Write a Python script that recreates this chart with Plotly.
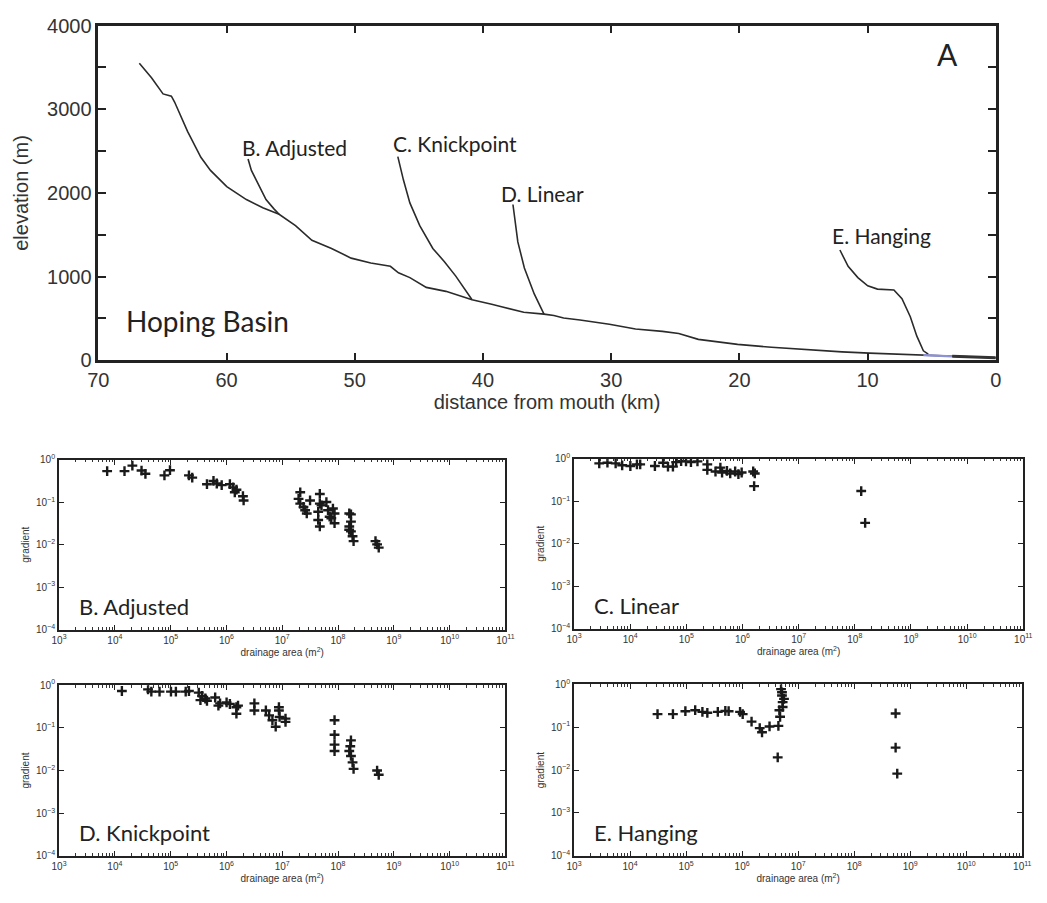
import plotly.graph_objects as go

# ---------------- Long profile (panel A) ----------------
trunk_km = [66.8, 65.85, 64.95, 64.3, 64.05, 63.04, 62.0, 61.25, 59.98, 58.45, 57.17, 55.9,
            54.62, 53.34, 51.81, 50.28, 48.75, 47.22, 46.59, 45.7, 44.42, 42.89, 40.85, 40.08,
            39.32, 38.55, 37.53, 36.82, 35.24, 34.47, 33.71, 32.43, 30.14, 28.1, 26.0, 24.73,
            23.2, 20.14, 17.5, 15.35, 14.1, 12.0, 9.87, 7.5, 5.65, 4.5, 3.4, 2.0, 0.0]
trunk_elev = [3550, 3378, 3184, 3157, 3087, 2737, 2426, 2270, 2076, 1921, 1823, 1745,
              1609, 1434, 1337, 1221, 1163, 1123, 1046, 988, 871, 824, 723, 700,
              670, 640, 606, 575, 552, 535, 505, 482, 431, 373, 345, 320,
              250, 190, 155, 132, 122, 100, 85, 72, 62, 55, 47, 40, 30]

adjusted_km = [58.32, 58.06, 57.68, 56.92, 56.3, 55.9]
adjusted_elev = [2406, 2270, 2154, 1921, 1810, 1745]

knick_km = [46.64, 46.2, 45.7, 44.93, 43.91, 43.02, 42.12, 41.36, 40.85]
knick_elev = [2434, 2154, 1881, 1609, 1337, 1181, 1006, 832, 723]

linear_km = [37.66, 37.28, 36.77, 36.0, 35.24]
linear_elev = [1862, 1415, 1104, 793, 552]

hanging_km = [12.16, 11.52, 10.76, 9.99, 9.23, 7.95, 7.32, 6.67, 6.16, 5.65, 5.27]
hanging_elev = [1318, 1123, 988, 890, 851, 840, 735, 521, 288, 113, 73]

# ---------------- Slope-area data (log10 values) ----------------
adj_logA = [3.862, 4.173, 4.314, 4.478, 4.548, 4.889, 4.988, 5.328, 5.387, 5.651, 5.768, 5.827,
            5.915, 6.062, 6.12, 6.15, 6.18, 6.296, 6.308,
            7.323, 7.293, 7.323, 7.381, 7.411, 7.499, 7.44, 7.674, 7.674, 7.645, 7.645, 7.674,
            7.704, 7.792, 7.821, 7.85, 7.909, 7.938, 7.938, 7.88,
            8.202, 8.232, 8.202, 8.232, 8.261, 8.279, 8.232, 8.2, 8.672, 8.701, 8.73]
adj_logS = [-0.268, -0.268, -0.138, -0.253, -0.33, -0.368, -0.245, -0.368, -0.421, -0.575, -0.498, -0.559,
            -0.598, -0.575, -0.651, -0.766, -0.705, -0.858, -0.958,
            -0.766, -0.92, -1.034, -1.111, -1.188, -0.958, -1.264, -0.805, -1.034, -1.226, -1.418, -1.571,
            -1.073, -0.996, -1.188, -1.341, -1.149, -1.264, -1.494, -1.379,
            -1.264, -1.456, -1.571, -1.686, -1.801, -1.916, -1.287, -1.65, -1.916, -1.992, -2.069]

lin_logA = [3.449, 3.595, 3.741, 3.857, 4.003, 4.12, 4.178, 4.44, 4.586, 4.673, 4.761, 4.819,
            4.907, 4.994, 5.082, 5.198, 5.373, 5.373, 5.519, 5.606, 5.636, 5.723, 5.781, 5.869,
            5.927, 5.985, 6.19, 6.219, 6.207, 8.114, 8.184]
lin_logS = [-0.107, -0.092, -0.107, -0.153, -0.169, -0.13, -0.13, -0.169, -0.092, -0.184, -0.184, -0.077,
            -0.054, -0.061, -0.077, -0.061, -0.13, -0.261, -0.299, -0.207, -0.322, -0.284, -0.345, -0.299,
            -0.36, -0.322, -0.299, -0.345, -0.644, -0.759, -1.51]

knk_logA = [4.126, 4.595, 4.654, 4.801, 5.006, 5.094, 5.27, 5.328, 5.504, 5.563, 5.622, 5.534,
            5.651, 5.798, 5.856, 5.886, 6.003, 6.062, 6.179, 6.179, 6.208, 6.501, 6.501, 6.707,
            6.765, 6.824, 6.941, 6.953, 6.941, 6.883, 7.059, 7.059,
            7.938, 7.938, 7.938, 7.938, 8.232, 8.202, 8.232, 8.261, 8.279, 8.22, 8.701, 8.73]
knk_logS = [-0.137, -0.099, -0.152, -0.152, -0.152, -0.152, -0.152, -0.137, -0.175, -0.251, -0.312, -0.35,
            -0.365, -0.289, -0.479, -0.426, -0.403, -0.441, -0.517, -0.669, -0.479, -0.426, -0.593, -0.593,
            -0.707, -0.821, -0.593, -0.745, -0.517, -0.973, -0.783, -0.859,
            -0.821, -1.163, -1.392, -1.544, -1.293, -1.544, -1.658, -1.81, -1.962, -1.43, -2.0, -2.099]

hng_logA = [4.49, 4.765, 4.987, 5.162, 5.291, 5.379, 5.566, 5.7, 5.759, 5.963, 6.01, 6.168,
            6.314, 6.355, 6.489, 6.711, 6.723, 6.723, 6.694, 6.711, 6.747, 6.665, 6.677, 6.647,
            6.635, 8.739, 8.739, 8.768]
hng_logS = [-0.697, -0.697, -0.629, -0.606, -0.644, -0.667, -0.644, -0.621, -0.629, -0.644, -0.697, -0.871,
            -1.023, -1.121, -0.985, -0.265, -0.417, -0.53, -0.114, -0.189, -0.341, -0.606, -0.758, -0.97,
            -1.705, -0.682, -1.477, -2.083]

elev_ticks = [0, 500, 1000, 1500, 2000, 2500, 3000, 3500, 4000]
elev_ticktext = ["0", "", "1000", "", "2000", "", "3000", "", "4000"]
dist_ticks = [70, 60, 50, 40, 30, 20, 10, 0]

area_exponents = [3, 4, 5, 6, 7, 8, 9, 10, 11]
grad_exponents = [0, -1, -2, -3, -4]

W, H = 1047, 903
LINE = "#2b2b2b"
LABEL_FONT = "Lato"
AXIS_FONT = "Liberation Sans, Arial, sans-serif"


def px_x(p):
    return p / W


def px_y(p):
    return 1 - p / H


fig = go.Figure()

# main stem and tributaries
for xs, ys in [(trunk_km, trunk_elev), (adjusted_km, adjusted_elev), (knick_km, knick_elev),
               (linear_km, linear_elev), (hanging_km, hanging_elev)]:
    fig.add_trace(go.Scatter(x=xs, y=ys, mode="lines", line=dict(color=LINE, width=1.6),
                             xaxis="x", yaxis="y", showlegend=False, hoverinfo="skip"))

# lowest reach near the mouth
blue_pts = [(k, e) for k, e in zip(trunk_km, trunk_elev) if 3.4 <= k <= 5.7]
fig.add_trace(go.Scatter(x=[p[0] for p in blue_pts], y=[p[1] for p in blue_pts], mode="lines",
                         line=dict(color="#8d91d6", width=2.2), xaxis="x", yaxis="y",
                         showlegend=False, hoverinfo="skip"))
mouth_pts = [(k, e) for k, e in zip(trunk_km, trunk_elev) if k <= 3.4]
fig.add_trace(go.Scatter(x=[p[0] for p in mouth_pts], y=[p[1] for p in mouth_pts], mode="lines",
                         line=dict(color="#333333", width=3), xaxis="x", yaxis="y",
                         showlegend=False, hoverinfo="skip"))

# slope-area panels
panels = [
    ("2", adj_logA, adj_logS, (49, 504, 460, 634), "B. Adjusted"),
    ("3", lin_logA, lin_logS, (574, 1032, 459, 633), "C. Linear"),
    ("4", knk_logA, knk_logS, (49, 504, 691, 866), "D. Knickpoint"),
    ("5", hng_logA, hng_logS, (574, 1031, 690, 866), "E. Hanging"),
]

layout = dict(
    width=W, height=H, margin=dict(l=0, r=0, t=0, b=0),
    paper_bgcolor="white", plot_bgcolor="white", showlegend=False,
    font=dict(family=AXIS_FONT, color="#333333"),
)

layout["xaxis"] = dict(
    domain=[px_x(89), px_x(1004)], range=[70, 0], anchor="y",
    tickmode="array", tickvals=dist_ticks, ticks="inside", ticklen=8, tickwidth=1.5,
    tickcolor="#222", showline=True, linewidth=2.5, linecolor="#222", mirror="ticks",
    showgrid=False, zeroline=False, tickfont=dict(size=20, color="#333"),
    title=dict(text="distance from mouth (km)", font=dict(size=20, color="#333"), standoff=2),
)
layout["yaxis"] = dict(
    domain=[px_y(358), px_y(15)], range=[0, 4000], anchor="x",
    tickmode="array", tickvals=elev_ticks, ticktext=elev_ticktext, ticks="inside", ticklen=8,
    tickwidth=1.5, tickcolor="#222", showline=True, linewidth=2.5, linecolor="#222",
    mirror="ticks", showgrid=False, zeroline=False, tickfont=dict(size=20, color="#333"),
    title=dict(text="elevation (m)", font=dict(size=20, color="#333"), standoff=14),
)

area_vals = [10.0 ** e for e in area_exponents]
area_text = ["10<sup>%d</sup>" % e for e in area_exponents]
grad_vals = [10.0 ** e for e in grad_exponents]
grad_text = ["10<sup>%s</sup>" % (str(e).replace("-", "\u2212")) for e in grad_exponents]
area_minor = [m * 10.0 ** e for e in area_exponents[:-1] for m in range(2, 10)]

annotations = []
for idx, lx, ly, (x0, x1, y0, y1), label in panels:
    xa, ya = "xaxis" + idx, "yaxis" + idx
    fig.add_trace(go.Scatter(
        x=[10 ** v for v in lx], y=[10 ** v for v in ly], mode="markers",
        marker=dict(symbol="cross-thin", size=7, line=dict(color="#1a1a1a", width=2.4)),
        xaxis="x" + idx, yaxis="y" + idx, showlegend=False, hoverinfo="skip"))
    layout[xa] = dict(
        domain=[px_x(x0), px_x(x1)], type="log", range=[3, 11], anchor="y" + idx,
        tickmode="array", tickvals=area_vals, ticktext=area_text, ticks="inside", ticklen=5,
        tickwidth=1, tickcolor="#222", showline=True, linewidth=2, linecolor="#222",
        mirror="ticks", showgrid=False, zeroline=False,
        minor=dict(tickmode="array", tickvals=area_minor, ticks="inside", ticklen=2.5,
                   tickwidth=1, tickcolor="#333", showgrid=False),
        tickfont=dict(size=10, color="#333"),
        title=dict(text="drainage area (m<sup>2</sup>)", font=dict(size=10, color="#333"), standoff=4),
    )
    layout[ya] = dict(
        domain=[px_y(y1), px_y(y0)], type="log", range=[-4, 0], anchor="x" + idx,
        tickmode="array", tickvals=grad_vals, ticktext=grad_text, ticks="inside", ticklen=5,
        tickwidth=1, tickcolor="#222", showline=True, linewidth=2, linecolor="#222",
        mirror="ticks", showgrid=False, zeroline=False,
        tickfont=dict(size=10, color="#333"),
        title=dict(text="gradient", font=dict(size=10, color="#333"), standoff=4),
    )
    annotations.append(dict(
        x=px_x(x0 + 18), y=px_y(y1 - 24), xref="paper", yref="paper", text=label,
        showarrow=False, xanchor="left", yanchor="middle",
        font=dict(family=LABEL_FONT, size=22, color="#222")))

# labels in the long profile
profile_labels = [
    ("B. Adjusted", 58.98, 2540, 21),
    ("C. Knickpoint", 47.2, 2590, 21),
    ("D. Linear", 38.78, 1990, 21),
    ("E. Hanging", 12.92, 1490, 21),
]
for text, xk, ye, sz in profile_labels:
    annotations.append(dict(x=xk, y=ye, xref="x", yref="y", text=text, showarrow=False,
                            xanchor="left", yanchor="middle",
                            font=dict(family=LABEL_FONT, size=sz, color="#222")))
annotations.append(dict(x=68.0, y=466, xref="x", yref="y", text="Hoping Basin", showarrow=False,
                        xanchor="left", yanchor="middle",
                        font=dict(family=LABEL_FONT, size=28, color="#222")))
annotations.append(dict(x=3.74, y=3660, xref="x", yref="y", text="A", showarrow=False,
                        xanchor="center", yanchor="middle",
                        font=dict(family=LABEL_FONT, size=30, color="#222")))

layout["annotations"] = annotations
fig.update_layout(**layout)

fig.write_html("out.html")
